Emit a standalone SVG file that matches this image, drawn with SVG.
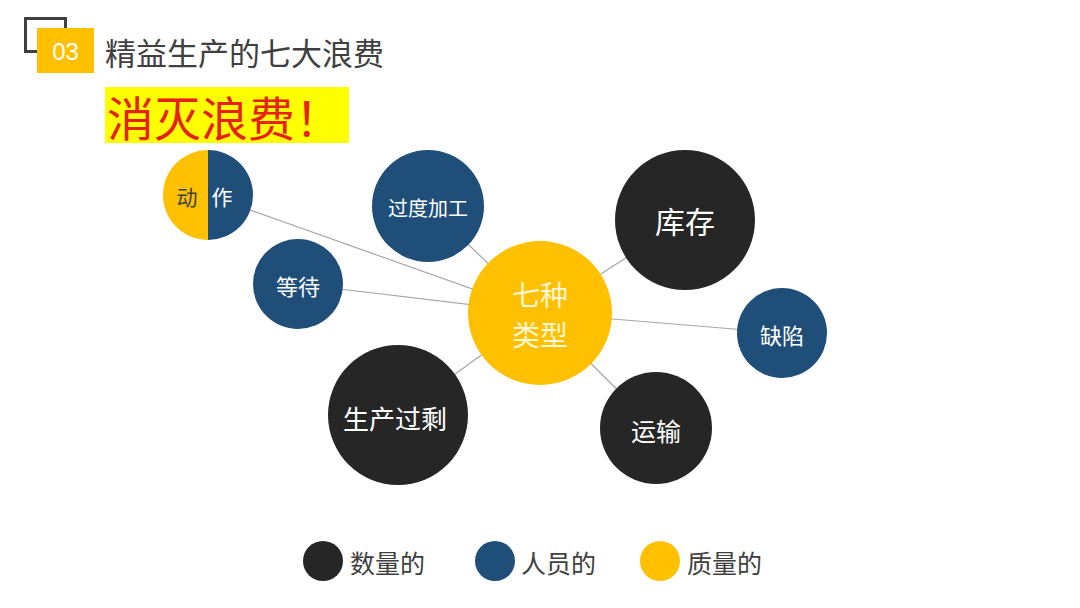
<svg xmlns="http://www.w3.org/2000/svg" width="1080" height="608" viewBox="0 0 1080 608">
<style>
.t{font-family:"Noto Sans CJK SC","Liberation Sans",sans-serif;text-anchor:middle;dominant-baseline:central}
.w{fill:#ffffff}
.dk{fill:#262626}
.bl{fill:#1f4e79}
.ye{fill:#ffc000}
.con{stroke:#a6a6a6;stroke-width:1.2;fill:none}
.lg{font-family:"Noto Sans CJK SC","Liberation Sans",sans-serif;font-size:25px;fill:#404040;dominant-baseline:central}
</style>
<rect width="1080" height="608" fill="#ffffff"/>
<g id="header">
<rect x="25.5" y="18.5" width="40" height="33" fill="none" stroke="#404040" stroke-width="3"/>
<rect x="37" y="28" width="57" height="45" fill="#ffc000"/>
<text x="65.5" y="51" class="t w" style="font-family:'Liberation Sans',sans-serif;font-size:24px">03</text>
<text x="105" y="51" style="font-family:'Noto Sans CJK SC',sans-serif;font-size:31px;fill:#404040;dominant-baseline:central">精益生产的七大浪费</text>
</g>
<g id="slogan">
<rect x="105" y="87" width="244" height="56" fill="#ffff00"/>
<text x="107" y="115" style="font-family:'Noto Sans CJK SC',sans-serif;font-size:47px;fill:#e62117;dominant-baseline:central">消灭浪费！</text>
</g>
<g id="connectors">
<line class="con" x1="540" y1="313" x2="208" y2="195"/>
<line class="con" x1="540" y1="313" x2="298" y2="284"/>
<line class="con" x1="540" y1="313" x2="428" y2="206"/>
<line class="con" x1="540" y1="313" x2="685" y2="220"/>
<line class="con" x1="540" y1="313" x2="782" y2="333"/>
<line class="con" x1="540" y1="313" x2="656" y2="428"/>
<line class="con" x1="540" y1="313" x2="398" y2="415"/>
</g>
<g id="node-action">
<path d="M208,150 A45,45 0 0 0 208,240 Z" class="ye"/>
<path d="M208,150 A45,45 0 0 1 208,240 Z" class="bl"/>
<text x="187" y="196" class="t" style="font-size:21px;fill:#404040">动</text>
<text x="222" y="196" class="t w" style="font-size:21px">作</text>
</g>
<g id="node-overprocessing">
<circle cx="428" cy="206" r="56" class="bl"/>
<text x="428" y="207" class="t w" style="font-size:20px">过度加工</text>
</g>
<g id="node-waiting">
<circle cx="298" cy="284" r="45" class="bl"/>
<text x="298" y="285" class="t w" style="font-size:22px">等待</text>
</g>
<g id="node-center">
<circle cx="540" cy="313" r="72" class="ye"/>
<text x="540" y="294" class="t" style="font-size:28px;fill:#fff6d5">七种</text>
<text x="540" y="334" class="t" style="font-size:28px;fill:#fff6d5">类型</text>
</g>
<g id="node-inventory">
<circle cx="685" cy="220" r="70" class="dk"/>
<text x="685" y="220" class="t w" style="font-size:30px">库存</text>
</g>
<g id="node-defect">
<circle cx="782" cy="333" r="45" class="bl"/>
<text x="782" y="334" class="t w" style="font-size:22px">缺陷</text>
</g>
<g id="node-transport">
<circle cx="656" cy="428" r="56" class="dk"/>
<text x="656" y="430" class="t w" style="font-size:25px">运输</text>
</g>
<g id="node-overproduction">
<circle cx="398" cy="415" r="70" class="dk"/>
<text x="395" y="417" class="t w" style="font-size:26px">生产过剩</text>
</g>
<g id="legend">
<circle cx="323" cy="561" r="20" class="dk"/>
<text x="350" y="562" class="lg">数量的</text>
<circle cx="495" cy="561" r="20" class="bl"/>
<text x="521" y="562" class="lg">人员的</text>
<circle cx="660" cy="561" r="20" class="ye"/>
<text x="687" y="562" class="lg">质量的</text>
</g>
</svg>
